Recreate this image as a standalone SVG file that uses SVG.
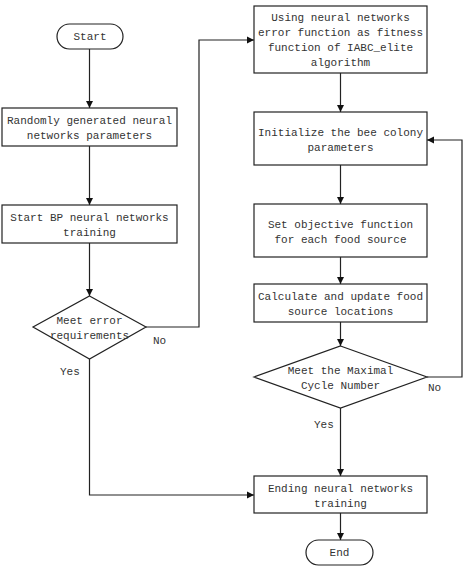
<svg xmlns="http://www.w3.org/2000/svg" width="464" height="568" viewBox="0 0 464 568">
<style>
.n{fill:#fff;stroke:#222;stroke-width:1.2}
.t{font-family:"Liberation Mono",monospace;font-size:11px;fill:#333;text-anchor:middle}
.l{font-family:"Liberation Mono",monospace;font-size:11px;fill:#333}
.c{fill:none;stroke:#222;stroke-width:1.2}
</style>
<defs>
<marker id="a" markerWidth="8" markerHeight="8" refX="7" refY="4" orient="auto" markerUnits="userSpaceOnUse">
<path d="M0,0.5 L7,4 L0,7.5 Z" fill="#111"/>
</marker>
</defs>
<rect width="464" height="568" fill="#fff"/>
<g id="connectors">
<path class="c" d="M89.5,49 V108" marker-end="url(#a)"/>
<path class="c" d="M89.5,146 V205" marker-end="url(#a)"/>
<path class="c" d="M89.5,243 V296" marker-end="url(#a)"/>
<path class="c" d="M146,327 H199 V40 H254" marker-end="url(#a)"/>
<path class="c" d="M89.5,359 V495 H254" marker-end="url(#a)"/>
<path class="c" d="M340.5,73 V112" marker-end="url(#a)"/>
<path class="c" d="M340.5,165 V204" marker-end="url(#a)"/>
<path class="c" d="M340.5,257 V284" marker-end="url(#a)"/>
<path class="c" d="M340.5,322 V346" marker-end="url(#a)"/>
<path class="c" d="M427,377 H462 V140 H427" marker-end="url(#a)"/>
<path class="c" d="M340.5,408 V476" marker-end="url(#a)"/>
<path class="c" d="M340.5,513 V540" marker-end="url(#a)"/>
<text class="l" x="153" y="344">No</text>
<text class="l" x="60" y="375">Yes</text>
<text class="l" x="428" y="391">No</text>
<text class="l" x="314" y="428">Yes</text>
</g>
<g id="start">
<rect class="n" x="57" y="24" width="66" height="25" rx="12.5"/>
<text class="t" x="90" y="40">Start</text>
</g>
<g id="random">
<rect class="n" x="2" y="108" width="175" height="38"/>
<text class="t" x="89.5" y="124">Randomly generated neural</text>
<text class="t" x="89.5" y="139">networks parameters</text>
</g>
<g id="bp">
<rect class="n" x="2" y="205" width="175" height="38"/>
<text class="t" x="89.5" y="221">Start BP neural networks</text>
<text class="t" x="89.5" y="236">training</text>
</g>
<g id="errcheck">
<path class="n" d="M89.5,296 L146,327 L89.5,359 L33,327 Z"/>
<text class="t" x="89.5" y="324">Meet error</text>
<text class="t" x="89.5" y="339">requirements</text>
</g>
<g id="fitness">
<rect class="n" x="254" y="6" width="173" height="67"/>
<text class="t" x="340.5" y="21">Using neural networks</text>
<text class="t" x="340.5" y="36">error function as fitness</text>
<text class="t" x="340.5" y="51">function of IABC_elite</text>
<text class="t" x="340.5" y="66">algorithm</text>
</g>
<g id="init">
<rect class="n" x="254" y="112" width="173" height="53"/>
<text class="t" x="340.5" y="136">Initialize the bee colony</text>
<text class="t" x="340.5" y="151">parameters</text>
</g>
<g id="objective">
<rect class="n" x="254" y="204" width="173" height="53"/>
<text class="t" x="340.5" y="228">Set objective function</text>
<text class="t" x="340.5" y="243">for each food source</text>
</g>
<g id="update">
<rect class="n" x="254" y="284" width="173" height="38"/>
<text class="t" x="340.5" y="300">Calculate and update food</text>
<text class="t" x="340.5" y="315">source locations</text>
</g>
<g id="cyclecheck">
<path class="n" d="M340.5,346 L427,377 L340.5,408 L254,377 Z"/>
<text class="t" x="340.5" y="374">Meet the Maximal</text>
<text class="t" x="340.5" y="389">Cycle Number</text>
</g>
<g id="ending">
<rect class="n" x="254" y="476" width="173" height="37"/>
<text class="t" x="340.5" y="492">Ending neural networks</text>
<text class="t" x="340.5" y="507">training</text>
</g>
<g id="end">
<rect class="n" x="306" y="540" width="67" height="25" rx="12.5"/>
<text class="t" x="339.5" y="556">End</text>
</g>
</svg>
